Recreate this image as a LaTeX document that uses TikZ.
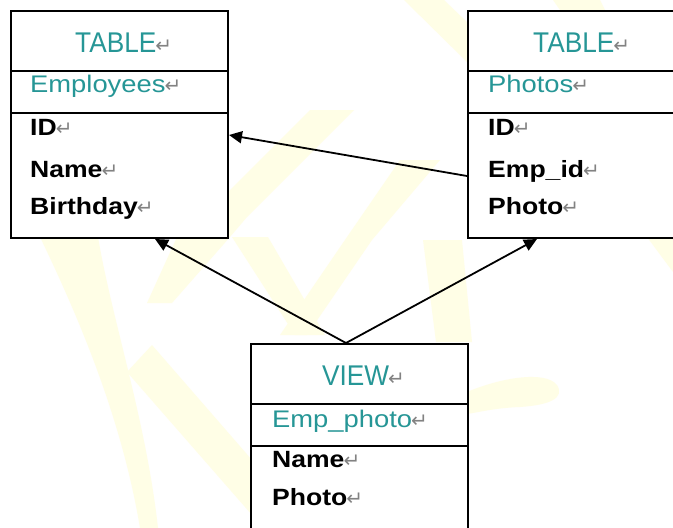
\documentclass[tikz,border=0pt]{standalone}
\usepackage{fontspec}
\usepackage{graphicx}
\setmainfont{Liberation Sans}
\newfontfamily\symfont{DejaVu Sans}
\usetikzlibrary{arrows.meta}

\definecolor{headteal}{RGB}{38,150,150}
\definecolor{markgray}{RGB}{130,130,130}
\definecolor{wash}{RGB}{255,254,230}

% paragraph mark shown after every line of text
\newcommand\pmark{{\symfont\fontsize{20}{20}\selectfont\color{markgray}\kern-1pt↵}}
% object kind (TABLE / VIEW), object name, column name
\newcommand\kindtext[1]{{\color{headteal}\scalebox{0.92}[1]{\fontsize{28.5}{30}\selectfont #1}}\pmark}
\newcommand\nametext[1]{{\color{headteal}\scalebox{1.14}[1]{\fontsize{24}{26}\selectfont #1}}\pmark}
\newcommand\fieldtext[1]{\scalebox{1.13}[1]{\fontsize{23.5}{26}\selectfont\bfseries #1}\pmark}

\tikzset{
  tbox/.style={draw=black, fill=white, line width=2pt, rectangle,
    minimum width=217pt, anchor=north west, inner sep=0pt},
  tline/.style={draw=black, line width=2pt},
  txt/.style={inner sep=0pt, anchor=base west},
  link/.style={draw=black, line width=1.8pt,
    -{Triangle[length=13pt,width=12pt]}},
}

\begin{document}
\begin{tikzpicture}[x=1pt,y=-1pt]
\useasboundingbox (0,0) rectangle (673,528);
\clip (0,0) rectangle (673,528);
\fill[white] (0,0) rectangle (673,528);

% pale background brush strokes
\begin{scope}[wash]
  \fill (40,237) .. controls (80,320) and (122,420) .. (140,528)
        -- (158,528) .. controls (146,420) and (112,320) .. (98,237) -- cycle;
  \fill (127,372) -- (152,345) -- (252,460) -- (252,515) -- cycle;
  \fill (310,110) -- (354,110) -- (247,217) -- (230,237) -- (172,303)
        -- (147,303) -- (177,237) -- (227,193) -- cycle;
  \fill (232,237) -- (268,237) -- (325,335) -- (295,335) -- cycle;
  \fill (400,160) -- (440,160) -- (372,240) -- (307,335) -- (280,335)
        -- (347,237) -- cycle;
  \fill (423,240) -- (462,240) -- (472,342) -- (436,342) -- cycle;
  \fill (404,0) -- (444,0) -- (467,22) -- (467,62) -- cycle;
  \fill (553,0) -- (600,0) -- (605,10) -- (560,10) -- cycle;
  \fill (647,237) -- (673,237) -- (673,272) -- cycle;
  \fill (467,392) .. controls (500,378) and (545,370) .. (557,385)
        .. controls (565,398) and (550,405) .. (520,407)
        .. controls (495,408) and (480,412) .. (467,414) -- cycle;
\end{scope}

% table Employees
\node[tbox, minimum height=227pt] (emp) at (10,10) {};
\draw[tline] (emp.west |- 0,71) -- (emp.east |- 0,71);
\draw[tline] (emp.west |- 0,113) -- (emp.east |- 0,113);
\node[txt] (empkind) at (75,52) {\kindtext{TABLE}};
\node[txt] (empname) at (30,92) {\nametext{Employees}};
\node[txt] (empid) at (30,135) {\fieldtext{ID}};
\node[txt] (empnm) at (30,177) {\fieldtext{Name}};
\node[txt] (empbd) at (30,214) {\fieldtext{Birthday}};

% table Photos
\node[tbox, minimum height=227pt] (pho) at (467,10) {};
\draw[tline] (pho.west |- 0,71) -- (pho.east |- 0,71);
\draw[tline] (pho.west |- 0,113) -- (pho.east |- 0,113);
\node[txt] (phokind) at (533,52) {\kindtext{TABLE}};
\node[txt] (phoname) at (488,92) {\nametext{Photos}};
\node[txt] (phoid) at (488,135) {\fieldtext{ID}};
\node[txt] (phoemp) at (488,177) {\fieldtext{Emp\_id}};
\node[txt] (phopic) at (488,214) {\fieldtext{Photo}};

% view Emp_photo
\node[tbox, minimum height=200pt] (view) at (250,343) {};
\draw[tline] (view.west |- 0,404) -- (view.east |- 0,404);
\draw[tline] (view.west |- 0,446) -- (view.east |- 0,446);
\node[txt] (viewkind) at (322,385) {\kindtext{VIEW}};
\node[txt] (viewname) at (272,427) {\nametext{Emp\_photo}};
\node[txt] (viewnm) at (272,467) {\fieldtext{Name}};
\node[txt] (viewpic) at (272,505) {\fieldtext{Photo}};

% references
\coordinate (pfrom) at (pho.west |- 0,176);
\coordinate (eto) at (emp.east |- 0,135);
\coordinate (esouth) at (emp.south -| 155,0);
\coordinate (psouth) at (pho.south -| 537,0);
\coordinate (vtop) at (view.north -| 346,0);
\draw[link] (pfrom) -- (eto);
\draw[link] (vtop) -- (esouth);
\draw[link] (vtop) -- (psouth);
\end{tikzpicture}
\end{document}
